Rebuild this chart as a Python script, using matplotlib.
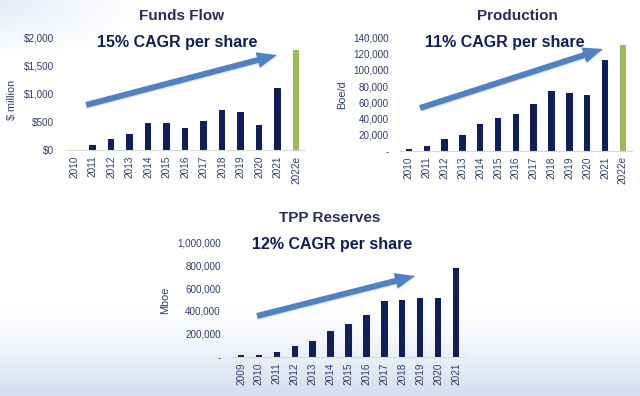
import numpy as np
import matplotlib
matplotlib.use('Agg')
import matplotlib.pyplot as plt
from matplotlib.patches import FancyArrow

plt.rcParams['font.family'] = ['Liberation Sans', 'DejaVu Sans']

# data
years_a = ['2010', '2011', '2012', '2013', '2014', '2015', '2016', '2017',
           '2018', '2019', '2020', '2021', '2022e']
funds_flow = [5, 83, 190, 285, 480, 480, 390, 510, 706, 676, 440, 1098, 1780]
production = [1500, 5500, 14500, 19000, 32500, 41000, 46000, 57500,
              74500, 71500, 69000, 112000, 131000]
years_r = ['2009', '2010', '2011', '2012', '2013', '2014', '2015', '2016',
           '2017', '2018', '2019', '2020', '2021']
reserves = [12000, 17000, 41000, 93000, 134000, 222000, 283000, 361000,
            490000, 496000, 510000, 510000, 776000]

W, H = 640, 396
navy = '#0E1F5B'
green = '#9BBB59'
tick_col = '#2F3D73'
title_col = '#262D5E'
arrow_col = '#4F81C3'

fig = plt.figure(figsize=(W / 100, H / 100), dpi=100)

# faint blue background wash
bg = fig.add_axes([0, 0, 1, 1], zorder=-5)
yy, xx = np.mgrid[0:H, 0:W]
t = np.clip((yy - 300) / 96.0, 0, 1) ** 1.6 * 0.9
t += np.clip(1 - np.hypot(xx / 140.0, yy / 60.0), 0, 1) * 0.5
t = np.clip(t, 0, 1)
tint = np.array([0.80, 0.85, 0.93])
img = 1 - t[..., None] * (1 - tint)
bg.imshow(img, extent=[0, W, H, 0], aspect='auto')
bg.axis('off')


def px_axes(left, top, width, height):
    return fig.add_axes([left / W, 1 - (top + height) / H, width / W, height / H])


def style(ax, labels, ymax, step, fmt):
    ax.set_xlim(-0.5, len(labels) - 0.5)
    ax.set_ylim(0, ymax)
    ax.set_xticks(range(len(labels)))
    ax.set_xticklabels(labels, rotation=90, fontsize=7.2, color=tick_col)
    ticks = np.arange(0, ymax + 1, step)
    ax.set_yticks(ticks)
    ax.set_yticklabels([fmt(v) for v in ticks], fontsize=7.1, color=tick_col)
    ax.tick_params(length=0, pad=8, axis='y')
    ax.tick_params(length=0, pad=4, axis='x')
    ax.patch.set_visible(False)
    for s in ['top', 'right', 'left']:
        ax.spines[s].set_visible(False)
    ax.spines['bottom'].set_color('#D9D9D9')
    ax.spines['bottom'].set_linewidth(0.8)


def num(v):
    return '-' if v == 0 else f'{v:,.0f}'


# Funds Flow
ax1 = px_axes(64.75, 37.7, 240.5, 112.3)
cols = [navy] * (len(years_a) - 1) + [green]
ax1.bar(range(len(years_a)), funds_flow, width=0.35, color=cols)
style(ax1, years_a, 2000, 500, lambda v: f'${v:,.0f}')

# Production
ax2 = px_axes(400, 37.7, 231.7, 113)
ax2.bar(range(len(years_a)), production, width=0.36, color=cols)
style(ax2, years_a, 140000, 20000, num)

# TPP Reserves
ax3 = px_axes(232, 242.3, 233, 114.4)
ax3.bar(range(len(years_r)), reserves, width=0.36, color=navy)
style(ax3, years_r, 1000000, 200000, num)


def ftext(x, y, s, **kw):
    fig.text(x / W, 1 - y / H, s, ha='center', va='center', **kw)


ftext(182, 16, 'Funds Flow', fontsize=11, fontweight='bold', color=title_col)
ftext(177, 43, '15% CAGR per share', fontsize=11.5, fontweight='bold', color=navy)
ftext(517, 16, 'Production', fontsize=11, fontweight='bold', color=title_col)
ftext(505, 43, '11% CAGR per share', fontsize=11.5, fontweight='bold', color=navy)
ftext(330, 218, 'TPP Reserves', fontsize=11, fontweight='bold', color=title_col)
ftext(332, 244, '12% CAGR per share', fontsize=11.5, fontweight='bold', color=navy)

ftext(12, 100, '$ million', fontsize=7.8, color=tick_col, rotation=90)
ftext(342, 95, 'Boe/d', fontsize=7.8, color=tick_col, rotation=90)
ftext(165, 300, 'Mboe', fontsize=7.8, color=tick_col, rotation=90)

# growth arrows on an overlay in pixel units
ov = fig.add_axes([0, 0, 1, 1], zorder=10)
ov.set_xlim(0, W)
ov.set_ylim(H, 0)
ov.axis('off')
arrows = [((86, 105), (277, 55)), ((420, 108), (603, 49)), ((257, 316), (415, 276))]
for (x0, y0), (x1, y1) in arrows:
    dx, dy = x1 - x0, y1 - y0
    ov.add_patch(FancyArrow(x0 + 1, y0 + 1.2, dx, dy, width=6, head_width=16,
                            head_length=20, length_includes_head=True,
                            color='#8A93A8', alpha=0.2, lw=0))
    ov.add_patch(FancyArrow(x0, y0, dx, dy, width=6, head_width=16,
                            head_length=20, length_includes_head=True,
                            color=arrow_col, lw=0))

fig.savefig('out.png', dpi=100)
